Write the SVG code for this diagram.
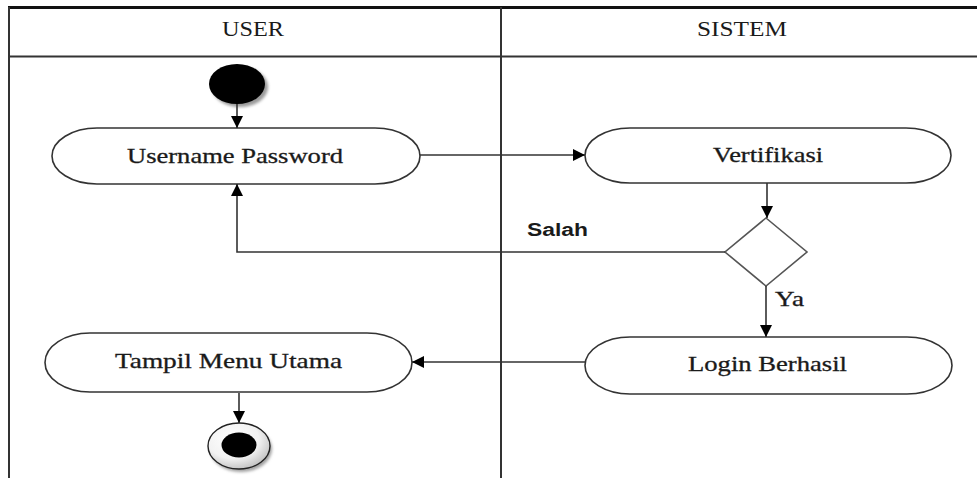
<svg xmlns="http://www.w3.org/2000/svg" width="977" height="478" viewBox="0 0 977 478">
  <style>
    .lane { fill: none; stroke: #333; stroke-width: 2; }
    .lane-top { fill: none; stroke: #111; stroke-width: 3; }
    .head { font-family: "Liberation Serif", "Times New Roman", serif; font-size: 21px; fill: #1a1a1a; text-anchor: middle; }
    .act { fill: #fff; stroke: #333; stroke-width: 1.6; }
    .label { font-family: "Liberation Serif", "Times New Roman", serif; font-size: 21px; fill: #1a1a1a; stroke: #1a1a1a; stroke-width: 0.3; }
    .guard { font-family: "Liberation Sans", Arial, sans-serif; font-size: 18px; font-weight: bold; fill: #1a1a1a; }
    .guard-serif { font-family: "Liberation Serif", "Times New Roman", serif; font-size: 21px; fill: #1a1a1a; stroke: #1a1a1a; stroke-width: 0.3; }
    .flow { fill: none; stroke: #333; stroke-width: 1.6; }
    .decision { fill: #fff; stroke: #555; stroke-width: 1.6; }
  </style>
  <defs>
    <marker id="arrow" viewBox="0 0 12 12" refX="12" refY="6" markerWidth="12" markerHeight="12" markerUnits="userSpaceOnUse" orient="auto">
      <path d="M0,0 L12,6 L0,12 Z" fill="#000"/>
    </marker>
    <radialGradient id="ring" cx="0.4" cy="0.35" r="0.7">
      <stop offset="0" stop-color="#ffffff"/>
      <stop offset="0.6" stop-color="#f2f2f2"/>
      <stop offset="1" stop-color="#bdbdbd"/>
    </radialGradient>
    <filter id="soft" x="-20%" y="-20%" width="140%" height="140%">
      <feGaussianBlur stdDeviation="1.5"/>
    </filter>
  </defs>

  <!-- swimlane frame -->
  <g id="swimlanes">
    <line class="lane-top" x1="8" y1="7.5" x2="977" y2="7.5"/>
    <line class="lane" x1="9" y1="7" x2="9" y2="478"/>
    <line class="lane" x1="9" y1="56.5" x2="977" y2="56.5"/>
    <line class="lane" x1="501" y1="7" x2="501" y2="478"/>
    <text class="head" x="253" y="36" textLength="62" lengthAdjust="spacingAndGlyphs">USER</text>
    <text class="head" x="742" y="36" textLength="90" lengthAdjust="spacingAndGlyphs">SISTEM</text>
  </g>

  <!-- initial node -->
  <g id="start">
    <ellipse cx="240" cy="87" rx="28" ry="20" fill="#9a9a9a" filter="url(#soft)"/>
    <ellipse cx="237" cy="84" rx="28" ry="20" fill="#000"/>
  </g>

  <g id="username-password">
    <rect class="act" x="52" y="128" width="368" height="56" rx="45" ry="28"/>
    <text class="label" x="127" y="163" textLength="216" lengthAdjust="spacingAndGlyphs">Username Password</text>
  </g>

  <g id="vertifikasi">
    <rect class="act" x="585" y="128" width="366" height="55" rx="45" ry="27.5"/>
    <text class="label" x="713" y="162" textLength="110" lengthAdjust="spacingAndGlyphs">Vertifikasi</text>
  </g>

  <g id="decision">
    <polygon class="decision" points="766,218 807,252 766,286 725,252"/>
  </g>

  <g id="login-berhasil">
    <rect class="act" x="585" y="337" width="367" height="57" rx="45" ry="28.5"/>
    <text class="label" x="688" y="371" textLength="159" lengthAdjust="spacingAndGlyphs">Login Berhasil</text>
  </g>

  <g id="tampil-menu-utama">
    <rect class="act" x="45" y="333" width="367" height="59" rx="45" ry="29.5"/>
    <text class="label" x="115" y="368" textLength="227" lengthAdjust="spacingAndGlyphs">Tampil Menu Utama</text>
  </g>

  <!-- final node -->
  <g id="end">
    <ellipse cx="241" cy="449" rx="31" ry="23" fill="#a0a0a0" filter="url(#soft)"/>
    <ellipse cx="239" cy="446" rx="31" ry="23" fill="url(#ring)" stroke="#222" stroke-width="1.4"/>
    <ellipse cx="239" cy="445" rx="17.5" ry="12.5" fill="#000"/>
  </g>

  <!-- control flows -->
  <g id="connectors">
    <line class="flow" x1="237" y1="104" x2="237" y2="128" marker-end="url(#arrow)"/>
    <line class="flow" x1="420" y1="155" x2="585" y2="155" marker-end="url(#arrow)"/>
    <line class="flow" x1="767" y1="183" x2="767" y2="218" marker-end="url(#arrow)"/>
    <polyline class="flow" points="725,252 237,252 237,184" marker-end="url(#arrow)"/>
    <text class="guard" x="527" y="236" textLength="61" lengthAdjust="spacingAndGlyphs">Salah</text>
    <line class="flow" x1="766" y1="286" x2="766" y2="337" marker-end="url(#arrow)"/>
    <text class="guard-serif" x="775" y="306" textLength="29" lengthAdjust="spacingAndGlyphs">Ya</text>
    <line class="flow" x1="585" y1="362" x2="412" y2="362" marker-end="url(#arrow)"/>
    <line class="flow" x1="239" y1="393" x2="239" y2="423" marker-end="url(#arrow)"/>
  </g>
</svg>
